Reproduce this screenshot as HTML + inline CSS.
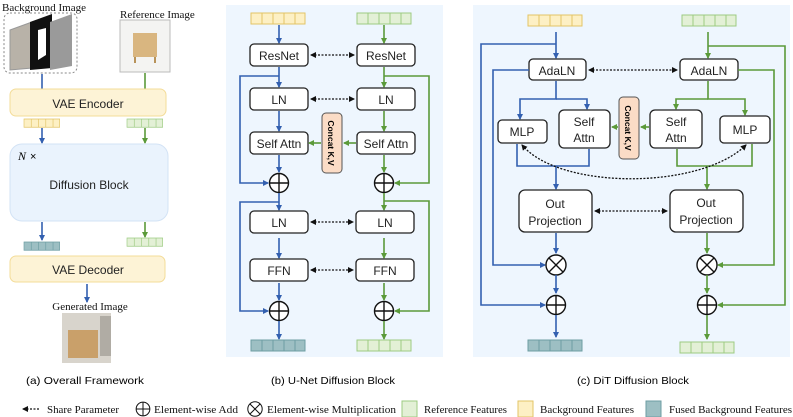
<!DOCTYPE html>
<html><head><meta charset="utf-8"><style>
html,body{margin:0;padding:0;background:#fff;}
svg{display:block;font-family:"Liberation Sans",sans-serif;}
.b{fill:#fff;stroke:#222;stroke-width:1.3;}
.t{font-size:12px;text-anchor:middle;fill:#222;}
.bl{stroke:#3360b0;stroke-width:1.6;fill:none;}
.gr{stroke:#5b9a3a;stroke-width:1.6;fill:none;}
.dt{stroke:#111;stroke-width:1.3;stroke-dasharray:2,1.5;fill:none;}
.ser{font-family:"Liberation Serif",serif;font-size:11px;fill:#111;}
</style></head><body>
<svg width="793" height="417" viewBox="0 0 793 417">
<defs>
<marker id="ab" markerWidth="6" markerHeight="6" refX="5" refY="3" orient="auto" markerUnits="userSpaceOnUse"><path d="M0,0L6,3L0,6z" fill="#3360b0"/></marker>
<marker id="ag" markerWidth="6" markerHeight="6" refX="5" refY="3" orient="auto" markerUnits="userSpaceOnUse"><path d="M0,0L6,3L0,6z" fill="#5b9a3a"/></marker>
<marker id="ak" markerWidth="6" markerHeight="6" refX="5" refY="3" orient="auto" markerUnits="userSpaceOnUse"><path d="M0,0L6,3L0,6z" fill="#111"/></marker>
<marker id="aks" markerWidth="6" markerHeight="6" refX="1" refY="3" orient="auto" markerUnits="userSpaceOnUse"><path d="M6,0L0,3L6,6z" fill="#111"/></marker>
<g id="fy"><rect x="0" y="0" width="54" height="11" fill="#fdf0c4" stroke="#e2c466"/><path d="M11,0v11M22,0v11M33,0v11M44,0v11" stroke="#e2c466"/></g>
<g id="fg"><rect x="0" y="0" width="54" height="11" fill="#e3f0d6" stroke="#9dcb82"/><path d="M11,0v11M22,0v11M33,0v11M44,0v11" stroke="#9dcb82"/></g>
<g id="ff"><rect x="0" y="0" width="54" height="11" fill="#9dbfc3" stroke="#6d9ea3"/><path d="M11,0v11M22,0v11M33,0v11M44,0v11" stroke="#6d9ea3"/></g>
<g id="plus"><circle r="9.5" fill="#fff" stroke="#111" stroke-width="1.4"/><path d="M-9.5,0H9.5M0,-9.5V9.5" stroke="#111" stroke-width="1.4"/></g>
<g id="times"><circle r="10" fill="#fff" stroke="#111" stroke-width="1.4"/><path d="M-7,-7L7,7M7,-7L-7,7" stroke="#111" stroke-width="1.4"/></g>
</defs>

<!-- (a) -->
<text x="2" y="11" class="ser" font-size="11">Background Image</text>
<rect x="4" y="13" width="73" height="60" rx="6" fill="none" stroke="#888" stroke-dasharray="2,2"/>
<polygon points="10,30 32,22 32,68 10,70" fill="#b8b2a8" stroke="#999"/>
<polygon points="30,22 52,14 52,68 30,70" fill="#111"/>
<polygon points="38,30 46,28 46,55 38,60" fill="#fff"/>
<polygon points="50,22 72,14 72,66 50,70" fill="#9a9a9a"/>
<text x="120" y="18" class="ser">Reference Image</text>
<rect x="120" y="20" width="50" height="52" fill="#f4f4f2" stroke="#bbb"/>
<rect x="133" y="33" width="24" height="24" fill="#d9b680"/>
<path d="M135,57v6M155,57v6" stroke="#b8935a" stroke-width="2"/>
<path d="M42,74v21" class="bl" marker-end="url(#ab)"/>
<path d="M145,73v22" class="gr" marker-end="url(#ag)"/>
<rect x="10" y="89" width="156" height="27" rx="6" fill="#fdf3d6" stroke="#f3dc98"/>
<text x="88" y="108" class="t" font-size="13">VAE   Encoder</text>
<g transform="translate(24,119) scale(0.66,0.75)"><use href="#fy"/></g>
<g transform="translate(127,119) scale(0.66,0.75)"><use href="#fg"/></g>
<path d="M42,128v15" class="bl" marker-end="url(#ab)"/>
<path d="M145,128v15" class="gr" marker-end="url(#ag)"/>
<rect x="10" y="144" width="158" height="77" rx="12" fill="#eaf3fd" stroke="#d3e3f5"/>
<text x="18" y="160" font-family="Liberation Serif" font-style="italic" font-size="12">N</text><text x="30" y="160" font-size="11">×</text>
<text x="89" y="189" class="t" font-size="13">Diffusion  Block</text>
<path d="M42,222v18" class="bl" marker-end="url(#ab)"/>
<path d="M145,222v15" class="gr" marker-end="url(#ag)"/>
<g transform="translate(127,238) scale(0.66,0.75)"><use href="#fg"/></g>
<g transform="translate(24,242) scale(0.66,0.75)"><use href="#ff"/></g>
<rect x="10" y="256" width="155" height="26" rx="6" fill="#fdf3d6" stroke="#f3dc98"/>
<text x="88" y="274" class="t" font-size="13">VAE   Decoder</text>
<path d="M87,284v18" class="bl" marker-end="url(#ab)"/>
<text x="90" y="310" class="ser" text-anchor="middle">Generated Image</text>
<rect x="62" y="313" width="49" height="50" fill="#d8d4cc"/>
<rect x="68" y="330" width="30" height="28" fill="#c9a06a"/>
<rect x="100" y="316" width="11" height="40" fill="#b0aca4"/>

<!-- (b) -->
<rect x="226" y="5" width="217" height="352" fill="#eef6fe"/>
<use href="#fy" x="251" y="13"/>
<use href="#fg" x="357" y="13"/>
<path d="M279,25v18" class="bl" marker-end="url(#ab)"/>
<path d="M384,25v18" class="gr" marker-end="url(#ag)"/>
<rect x="250" y="44" width="58" height="22" rx="4" class="b"/><text x="279" y="60" class="t">ResNet</text>
<rect x="357" y="44" width="58" height="22" rx="4" class="b"/><text x="386" y="60" class="t">ResNet</text>
<path d="M311,55H354" class="dt" marker-start="url(#aks)" marker-end="url(#ak)"/>
<path d="M279,67v20" class="bl" marker-end="url(#ab)"/>
<path d="M384,67v20" class="gr" marker-end="url(#ag)"/>
<path d="M279,76H240V183H268" class="bl" marker-end="url(#ab)"/>
<path d="M384,76H429V183H395" class="gr" marker-end="url(#ag)"/>
<rect x="250" y="88" width="58" height="22" rx="4" class="b"/><text x="279" y="104" class="t">LN</text>
<rect x="357" y="88" width="58" height="22" rx="4" class="b"/><text x="386" y="104" class="t">LN</text>
<path d="M311,99H354" class="dt" marker-start="url(#aks)" marker-end="url(#ak)"/>
<path d="M279,111v20" class="bl" marker-end="url(#ab)"/>
<path d="M384,111v20" class="gr" marker-end="url(#ag)"/>
<rect x="250" y="132" width="58" height="22" rx="4" class="b"/><text x="279" y="148" class="t">Self Attn</text>
<rect x="357" y="132" width="58" height="22" rx="4" class="b"/><text x="386" y="148" class="t">Self Attn</text>
<rect x="322" y="113" width="20" height="60" rx="4" fill="#fbdcc6" stroke="#555"/>
<text transform="translate(328,143) rotate(90)" text-anchor="middle" font-size="8.5" font-weight="bold">Concat  K,V</text>
<path d="M356,143H344" class="gr" marker-end="url(#ag)"/>
<path d="M321,143H309" class="gr" marker-end="url(#ag)"/>
<path d="M279,155v17" class="bl" marker-end="url(#ab)"/>
<path d="M384,155v17" class="gr" marker-end="url(#ag)"/>
<use href="#plus" x="279" y="183"/><use href="#plus" x="384" y="183"/>
<path d="M279,193v17" class="bl" marker-end="url(#ab)"/>
<path d="M384,193v17" class="gr" marker-end="url(#ag)"/>
<path d="M279,202H240V311H268" class="bl" marker-end="url(#ab)"/>
<path d="M384,201H429V311H395" class="gr" marker-end="url(#ag)"/>
<rect x="250" y="211" width="58" height="22" rx="4" class="b"/><text x="279" y="227" class="t">LN</text>
<rect x="356" y="211" width="58" height="22" rx="4" class="b"/><text x="385" y="227" class="t">LN</text>
<path d="M311,222H353" class="dt" marker-start="url(#aks)" marker-end="url(#ak)"/>
<path d="M279,238v20" class="bl" marker-end="url(#ab)"/>
<path d="M384,238v20" class="gr" marker-end="url(#ag)"/>
<rect x="250" y="259" width="58" height="22" rx="4" class="b"/><text x="279" y="275" class="t">FFN</text>
<rect x="356" y="259" width="58" height="22" rx="4" class="b"/><text x="385" y="275" class="t">FFN</text>
<path d="M311,270H353" class="dt" marker-start="url(#aks)" marker-end="url(#ak)"/>
<path d="M279,283v17" class="bl" marker-end="url(#ab)"/>
<path d="M384,283v17" class="gr" marker-end="url(#ag)"/>
<use href="#plus" x="279" y="311"/><use href="#plus" x="384" y="311"/>
<path d="M279,321v18" class="bl" marker-end="url(#ab)"/>
<path d="M384,321v18" class="gr" marker-end="url(#ag)"/>
<use href="#ff" x="251" y="340"/>
<use href="#fg" x="357" y="340"/>

<!-- (c) -->
<rect x="473" y="5" width="317" height="352" fill="#eef6fe"/>
<use href="#fy" x="528" y="15"/>
<use href="#fg" x="682" y="15"/>
<path d="M556,32v26" class="bl" marker-end="url(#ab)"/>
<path d="M708,32v26" class="gr" marker-end="url(#ag)"/>
<path d="M556,44H481V305H545" class="bl" marker-end="url(#ab)"/>
<path d="M708,46H785V305H718" class="gr" marker-end="url(#ag)"/>
<rect x="529" y="59" width="57" height="21" rx="4" class="b"/><text x="557" y="75" class="t">AdaLN</text>
<rect x="680" y="59" width="58" height="21" rx="4" class="b"/><text x="709" y="75" class="t">AdaLN</text>
<path d="M589,70H677" class="dt" marker-start="url(#aks)" marker-end="url(#ak)"/>
<path d="M529,70H493V265H545" class="bl" marker-end="url(#ab)"/>
<path d="M738,70H774V265H718" class="gr" marker-end="url(#ag)"/>
<path d="M556,81V99H520V119" class="bl" marker-end="url(#ab)"/>
<path d="M556,99H587V109" class="bl" marker-end="url(#ab)"/>
<path d="M708,81V99H745V115" class="gr" marker-end="url(#ag)"/>
<path d="M708,99H676V109" class="gr" marker-end="url(#ag)"/>
<rect x="498" y="120" width="49" height="23" rx="4" class="b"/><text x="522" y="136" class="t">MLP</text>
<rect x="559" y="110" width="51" height="38" rx="5" class="b"/><text x="584" y="126" class="t">Self</text><text x="584" y="142" class="t">Attn</text>
<rect x="619" y="97" width="20" height="62" rx="4" fill="#fbdcc6" stroke="#555"/>
<text transform="translate(625,128) rotate(90)" text-anchor="middle" font-size="8.5" font-weight="bold">Concat  K,V</text>
<path d="M649,127H641" class="gr" marker-end="url(#ag)"/>
<path d="M618,127H612" class="gr" marker-end="url(#ag)"/>
<rect x="650" y="110" width="52" height="38" rx="5" class="b"/><text x="676" y="126" class="t">Self</text><text x="676" y="142" class="t">Attn</text>
<rect x="720" y="116" width="50" height="27" rx="4" class="b"/><text x="745" y="134" class="t">MLP</text>
<path d="M517,144V166H589V149M556,166V189" class="bl" marker-end="url(#ab)"/>
<path d="M677,149V166H752V144M707,166V189" class="gr" marker-end="url(#ag)"/>
<path d="M522,145C560,190 700,190 746,145" class="dt" marker-start="url(#aks)" marker-end="url(#ak)"/>
<rect x="519" y="190" width="73" height="42" rx="6" class="b"/><text x="555" y="208" class="t">Out</text><text x="555" y="225" class="t">Projection</text>
<rect x="670" y="190" width="73" height="42" rx="6" class="b"/><text x="706" y="207" class="t">Out</text><text x="706" y="224" class="t">Projection</text>
<path d="M595,211H667" class="dt" marker-start="url(#aks)" marker-end="url(#ak)"/>
<path d="M556,233v20" class="bl" marker-end="url(#ab)"/>
<path d="M707,233v20" class="gr" marker-end="url(#ag)"/>
<use href="#times" x="556" y="265"/><use href="#times" x="707" y="265"/>
<path d="M556,275v18" class="bl" marker-end="url(#ab)"/>
<path d="M707,275v18" class="gr" marker-end="url(#ag)"/>
<use href="#plus" x="556" y="305"/><use href="#plus" x="707" y="305"/>
<path d="M556,315v22" class="bl" marker-end="url(#ab)"/>
<path d="M707,315v24" class="gr" marker-end="url(#ag)"/>
<use href="#ff" x="528" y="340"/>
<use href="#fg" x="680" y="342"/>

<!-- captions -->
<text x="26" y="384" font-size="10.5" textLength="118" lengthAdjust="spacingAndGlyphs">(a)  Overall  Framework</text>
<text x="271" y="384" font-size="10.5" textLength="124" lengthAdjust="spacingAndGlyphs">(b)  U-Net Diffusion Block</text>
<text x="577" y="384" font-size="10.5" textLength="112" lengthAdjust="spacingAndGlyphs">(c)  DiT Diffusion Block</text>

<!-- legend -->
<path d="M23,409H40" class="dt" marker-start="url(#aks)"/>
<text x="47" y="413" class="ser" font-size="11" textLength="72" lengthAdjust="spacingAndGlyphs">Share Parameter</text>
<g transform="translate(143,409) scale(0.72)"><use href="#plus"/></g>
<text x="154" y="413" class="ser" font-size="11" textLength="84" lengthAdjust="spacingAndGlyphs">Element-wise Add</text>
<g transform="translate(255,409) scale(0.72)"><use href="#times"/></g>
<text x="267" y="413" class="ser" font-size="11" textLength="129" lengthAdjust="spacingAndGlyphs">Element-wise Multiplication</text>
<rect x="402" y="401" width="15" height="16" fill="#e3f0d6" stroke="#9dcb82"/>
<text x="424" y="413" class="ser" font-size="11" textLength="83" lengthAdjust="spacingAndGlyphs">Reference Features</text>
<rect x="518" y="401" width="15" height="16" fill="#fdf0c4" stroke="#e2c466"/>
<text x="540" y="413" class="ser" font-size="11" textLength="94" lengthAdjust="spacingAndGlyphs">Background Features</text>
<rect x="646" y="401" width="15" height="16" fill="#9dbfc3" stroke="#6d9ea3"/>
<text x="669" y="413" class="ser" font-size="11" textLength="123" lengthAdjust="spacingAndGlyphs">Fused Background Features</text>
</svg>
</body></html>
